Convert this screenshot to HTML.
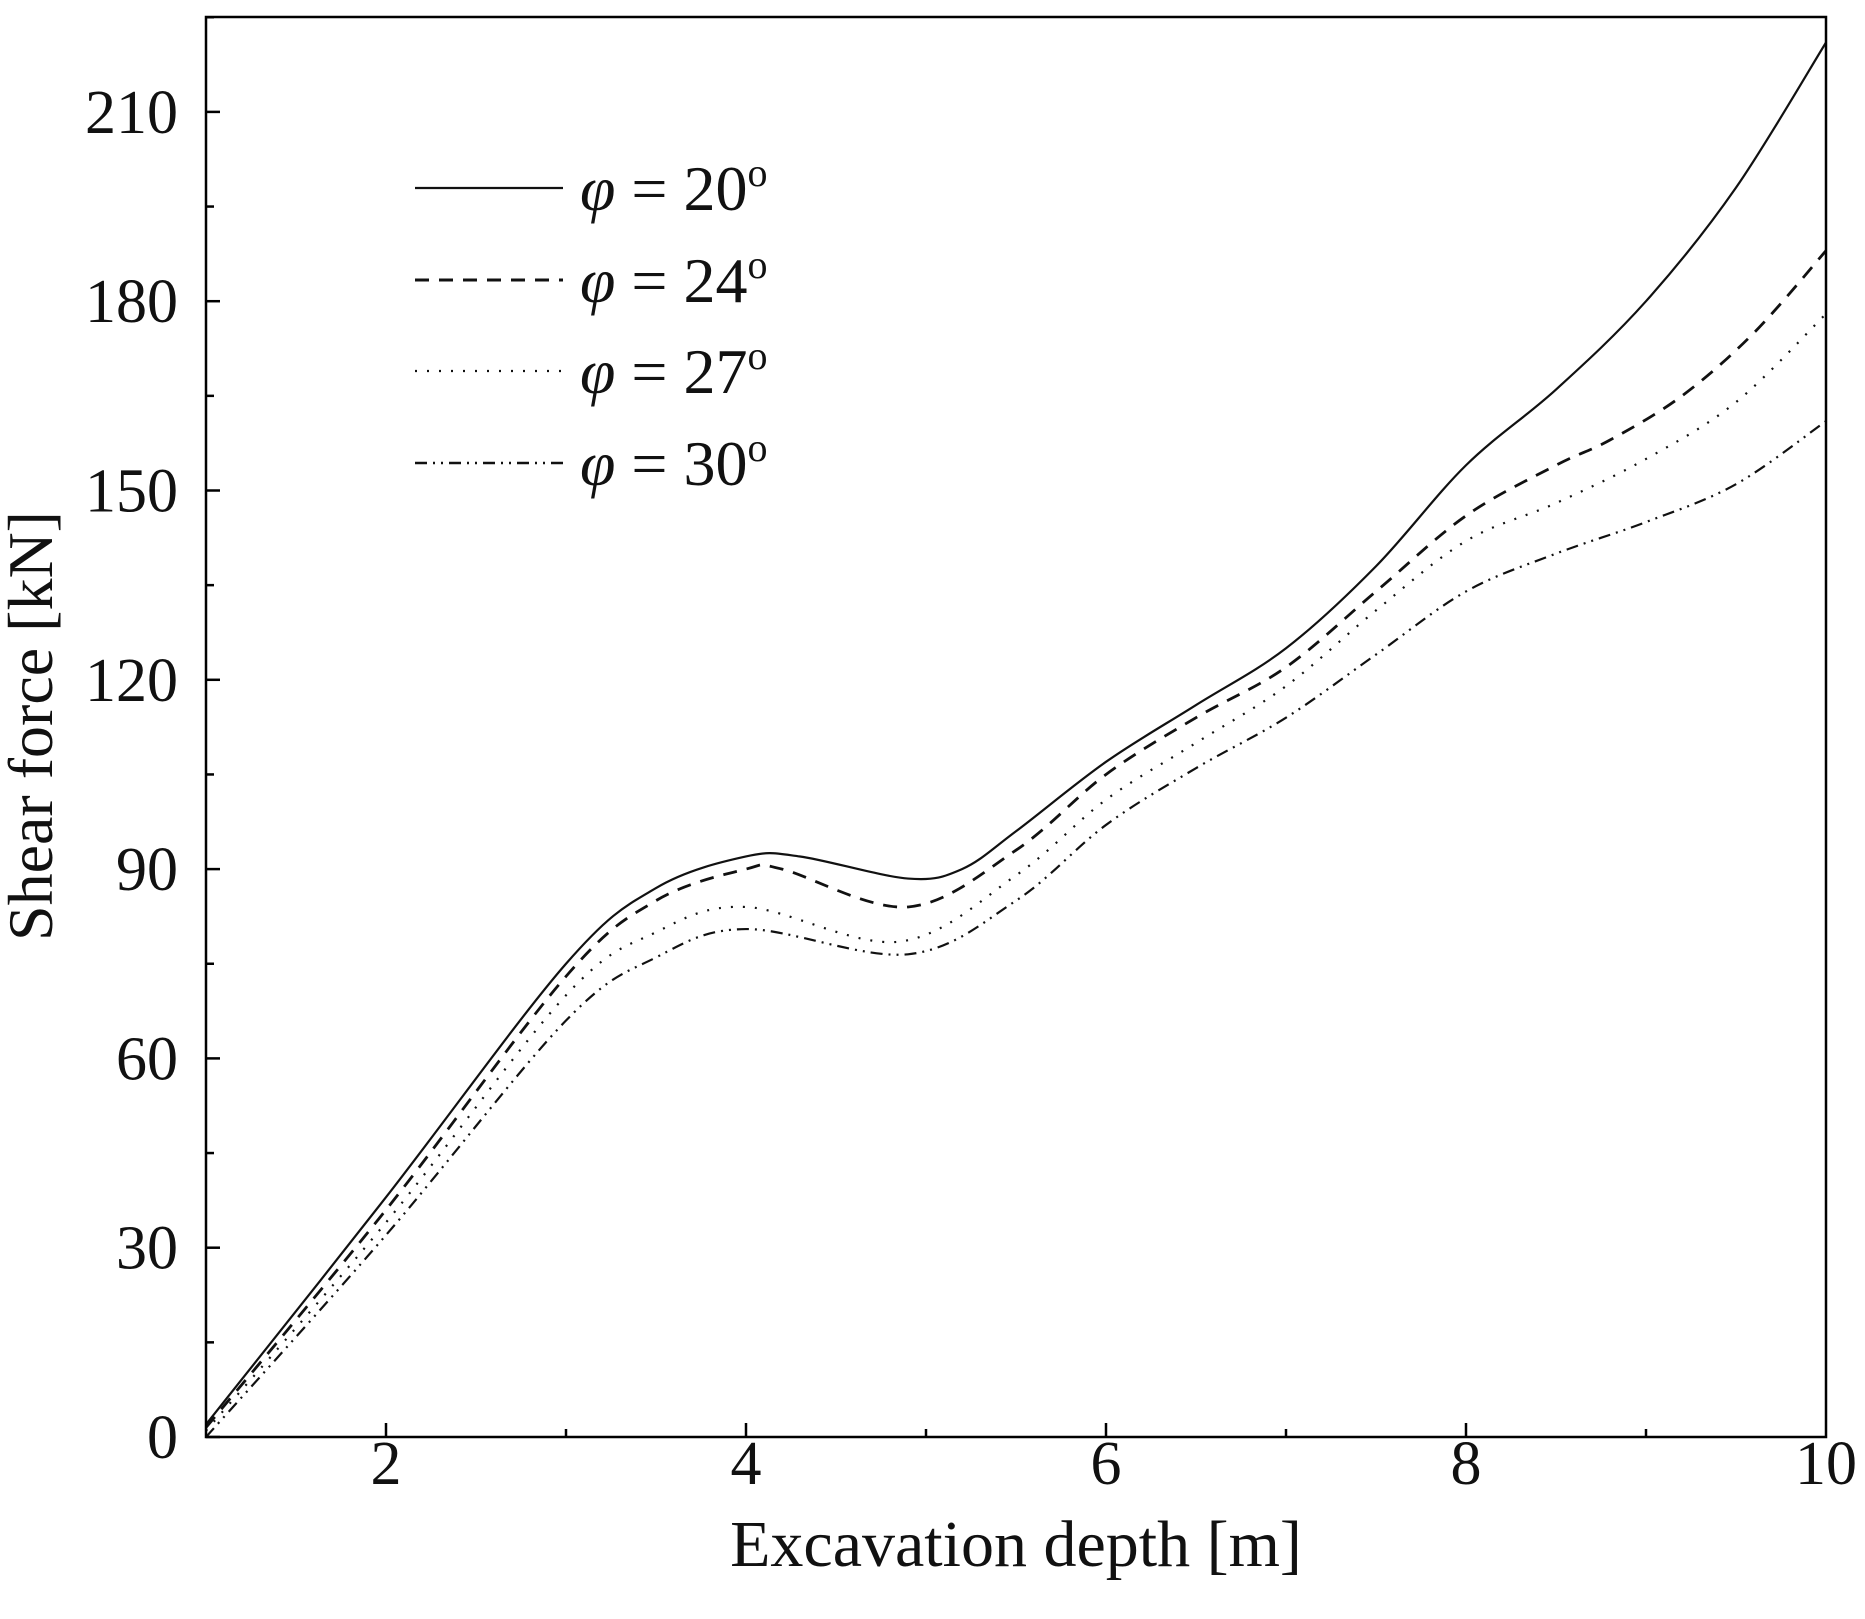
<!DOCTYPE html>
<html><head><meta charset="utf-8"><style>
html,body{margin:0;padding:0;background:#fff;}
svg{display:block;font-family:"Liberation Serif",serif;}
</style></head><body>
<svg id="s" width="1865" height="1619" viewBox="0 0 1865 1619" xmlns="http://www.w3.org/2000/svg">
<rect width="1865" height="1619" fill="#fff"/>
<g id="ticks" stroke="#000" stroke-width="2.5"></g>
<g id="curves" fill="none" stroke="#111" stroke-width="2.2"></g>
<rect x="206" y="17" width="1620" height="1420" fill="none" stroke="#000" stroke-width="2.5"/>
<g font-size="62" fill="#111" text-anchor="end" id="ylab"></g>
<g font-size="62" fill="#111" text-anchor="middle" id="xlab"></g>
<text x="1016" y="1566" font-size="66" text-anchor="middle" fill="#111">Excavation depth [m]</text>
<text transform="translate(52,726) rotate(-90)" font-size="64" text-anchor="middle" fill="#111">Shear force [kN]</text>
<g stroke="#111" stroke-width="2.2">
<line x1="415" y1="188" x2="563" y2="188"/>
<line x1="415" y1="280" x2="563" y2="280" stroke-dasharray="14,10" stroke-width="3"/>
<line x1="415" y1="371" x2="563" y2="371" stroke-dasharray="2,10"/>
<line x1="415" y1="463" x2="563" y2="463" stroke-dasharray="12,6,2,6,2,6" stroke-width="2.6"/>
</g>
<g font-size="64" fill="#111">
<text x="580" y="210"><tspan font-style="italic">φ</tspan> = 20<tspan font-size="40" dy="-24">o</tspan></text>
<text x="580" y="302"><tspan font-style="italic">φ</tspan> = 24<tspan font-size="40" dy="-24">o</tspan></text>
<text x="580" y="393"><tspan font-style="italic">φ</tspan> = 27<tspan font-size="40" dy="-24">o</tspan></text>
<text x="580" y="485"><tspan font-style="italic">φ</tspan> = 30<tspan font-size="40" dy="-24">o</tspan></text>
</g>
</svg>
<script>
var NS="http://www.w3.org/2000/svg";
function X(v){return 206+(v-1)*180;}
function Y(v){return 1437-v*189.3/30;}
function el(p,t,a,txt){var e=document.createElementNS(NS,t);for(var k in a)e.setAttribute(k,a[k]);if(txt!=null)e.textContent=txt;document.getElementById(p).appendChild(e);}
for(var v=0;v<=225;v+=15){var y=Y(v),L=(v%30==0)?14:8;el("ticks","line",{x1:206,y1:y,x2:206+L,y2:y});
 if(v%30==0)el("ylab","text",{x:178,y:y+21},String(v));}
for(var v=2;v<=9;v++){var x=X(v),L=(v%2==0)?14:8;el("ticks","line",{x1:x,y1:1437,x2:x,y2:1437-L});}
for(var v=2;v<=10;v+=2)el("xlab","text",{x:X(v),y:1484},String(v));
var data=[
 [[1,2],[2,38],[3,75],[3.5,87],[4,92],[4.3,92],[4.9,88.5],[5.2,90],[5.5,96],[6,107],[6.5,116],[7,125],[7.5,138],[8,154],[8.5,166],[9,180],[9.5,198],[10,221]],
 [[1,1.5],[2,36],[3,73],[3.5,85],[4,90],[4.2,90],[4.9,84],[5.5,93],[6,105],[6.5,114],[7,122],[7.5,134],[8,146],[8.5,154],[8.8,158],[9.2,165],[9.6,175],[10,188]],
 [[1,1],[2,34],[3,70],[3.5,80],[4,84],[4.85,78.5],[5.5,89],[6,101],[6.5,110],[7,119],[7.5,131],[8,142],[8.5,148],[9,155],[9.5,164],[10,178]],
 [[1,0],[2,32],[3,66],[3.5,76],[4,80.5],[4.9,76.5],[5.5,85],[6,97],[6.5,106],[7,114],[7.5,124],[8,134],[8.5,140],[9,145],[9.5,151],[10,161]]];
var dash=["none","14,10","2,10","12,6,2,6,2,6"];
data.forEach(function(d,i){var p=d.map(function(q){return [X(q[0]),Y(q[1])];});
 var s="M"+p[0][0]+","+p[0][1];
 for(var k=0;k<p.length-1;k++){var p0=p[k-1]||p[k],p1=p[k],p2=p[k+1],p3=p[k+2]||p2;
  s+=" C"+(p1[0]+(p2[0]-p0[0])/6)+","+(p1[1]+(p2[1]-p0[1])/6)+" "+(p2[0]-(p3[0]-p1[0])/6)+","+(p2[1]-(p3[1]-p1[1])/6)+" "+p2[0]+","+p2[1];}
 var a={d:s};if(dash[i]!="none")a["stroke-dasharray"]=dash[i];if(i==1)a["stroke-width"]=2.8;
 el("curves","path",a);});
</script>
</body></html>
